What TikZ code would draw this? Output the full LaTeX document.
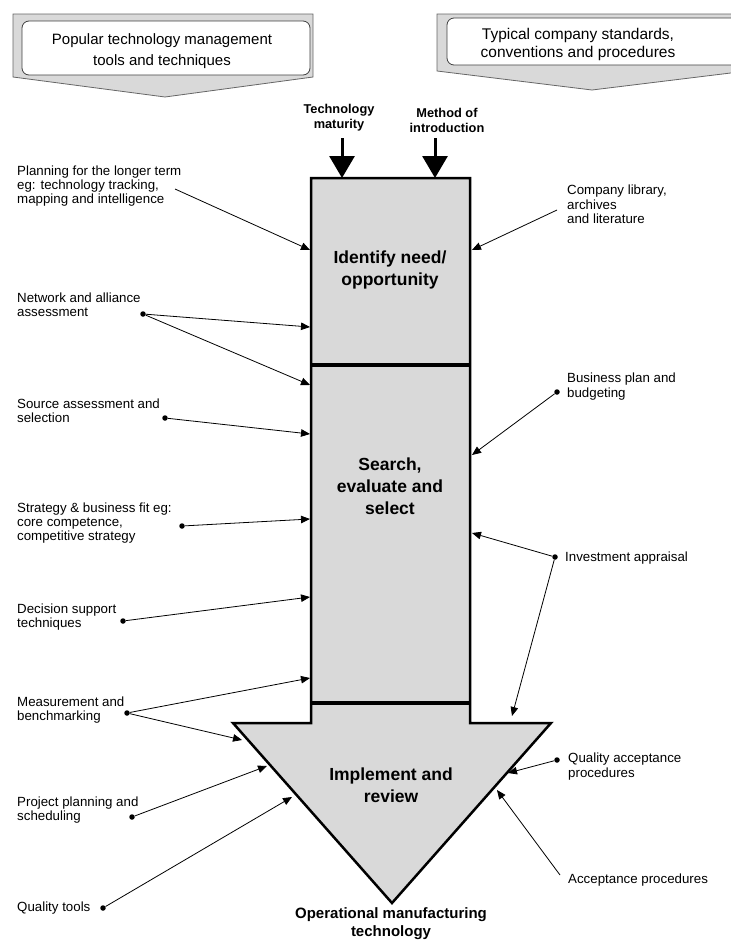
\documentclass[tikz,border=0pt]{standalone}
\usepackage{fontspec}
\setmainfont{Liberation Sans}
\usetikzlibrary{arrows.meta}

\begin{document}
\begin{tikzpicture}[x=1pt,y=-1pt,
  lbl/.style={anchor=west,align=left,inner sep=0pt,font=\fontsize{13.3}{14.3}\selectfont},
  dot/.style={circle,fill=black,inner sep=0pt,minimum size=5.5pt},
  feed/.style={line width=0.8pt,-{Triangle[length=9pt,width=7.5pt]}},
  stage/.style={align=center,font=\bfseries\fontsize{17.5}{22}\selectfont},
  input/.style={line width=3pt,-{Triangle[length=22pt,width=25pt]}},
  banner/.style={draw=black!60,fill=black!15,line width=0.8pt},
  heading/.style={draw=black!75,fill=white,rounded corners=7pt,line width=0.8pt}]

\useasboundingbox (0,0) rectangle (731,943);
\clip (0,0) rectangle (731,943);

\draw[banner] (13,14) -- (313,14) -- (313,77) -- (165,97) -- (13,77) -- cycle;
\draw[heading] (22,21) rectangle (310,75);
\node[align=center,font=\fontsize{15}{21}\selectfont] (tools) at (162,51) {Popular technology management\\tools and techniques};

\draw[banner] (437,14) -- (747,14) -- (747,71) -- (592,90) -- (437,71) -- cycle;
\draw[heading] (447,18) rectangle (745,65);
\node[align=center,font=\fontsize{15.5}{18}\selectfont] (stds) at (578,44) {Typical company standards,\\conventions and procedures};

\draw[fill=black!15,line width=2.5pt] (311,178) -- (470,178) -- (470,723) -- (551,723) -- (392,903) -- (233,723) -- (311,723) -- cycle;
\draw[line width=3.5pt] (311,365) -- (470,365) (311,703) -- (470,703);

\node[stage] (need) at (390,270) {Identify need/\\opportunity};
\node[stage] (search) at (390,486) {Search,\\evaluate and\\select};
\node[stage] (impl) at (391,785) {Implement and\\review};
\node[align=center,font=\bfseries\fontsize{15}{18}\selectfont] (omt) at (391,924) {Operational manufacturing\\technology};

\node[align=center,font=\bfseries\fontsize{12.8}{15}\selectfont] (tm) at (339,118) {Technology\\maturity};
\node[align=center,font=\bfseries\fontsize{12.8}{15}\selectfont] (moi) at (447,120) {Method of\\introduction};
\coordinate (tmTop) at (342,138);
\coordinate (tmTip) at (342,178);
\coordinate (moiTop) at (435,138);
\coordinate (moiTip) at (435,178);
\draw[input] (tmTop) -- (tmTip);
\draw[input] (moiTop) -- (moiTip);

\node[lbl] (plan) at (17,186) {Planning for the longer term\\eg: technology tracking,\\mapping and intelligence};
\node[lbl] (net) at (17,305) {Network and alliance\\assessment};
\node[lbl] (src) at (17,411) {Source assessment and\\selection};
\node[lbl] (strat) at (17,523) {Strategy \& business fit eg:\\core competence,\\competitive strategy};
\node[lbl] (dec) at (17,617) {Decision support\\techniques};
\node[lbl] (meas) at (17,710) {Measurement and\\benchmarking};
\node[lbl] (proj) at (17,810) {Project planning and\\scheduling};
\node[lbl] (qtools) at (17,908) {Quality tools};

\node[lbl] (lib) at (567,204.5) {Company library,\\archives\\and literature};
\node[lbl] (bus) at (567,386.5) {Business plan and\\budgeting};
\node[lbl] (inv) at (565,558) {Investment appraisal};
\node[lbl] (qap) at (568,766.5) {Quality acceptance\\procedures};
\node[lbl] (acc) at (568,880) {Acceptance procedures};

\coordinate (planStart) at (175,189);
\coordinate (libStart) at (557,210);
\coordinate (accStart) at (560,875);
\node[dot] (netDot) at (143,314) {};
\node[dot] (srcDot) at (165,418) {};
\node[dot] (stratDot) at (182,526) {};
\node[dot] (decDot) at (123,621) {};
\node[dot] (measDot) at (127,713) {};
\node[dot] (projDot) at (132,817) {};
\node[dot] (qtDot) at (103,908) {};
\node[dot] (busDot) at (557,392) {};
\node[dot] (invDot) at (555,557) {};
\node[dot] (qapDot) at (557,760) {};

\coordinate (planTip) at (310,250);
\coordinate (netTip1) at (310,327);
\coordinate (netTip2) at (310,385);
\coordinate (srcTip) at (310,434);
\coordinate (stratTip) at (310,519);
\coordinate (decTip) at (310,597);
\coordinate (measTip1) at (310,678);
\coordinate (measTip2) at (242,740);
\coordinate (projTip) at (267,766);
\coordinate (qtTip) at (292,797);
\coordinate (libTip) at (472,250);
\coordinate (busTip) at (472,455);
\coordinate (invTip1) at (472,533);
\coordinate (invTip2) at (512,716);
\coordinate (qapTip) at (508,773);
\coordinate (accTip) at (497,790);

\draw[feed] (planStart) -- (planTip);
\draw[feed] (netDot) -- (netTip1);
\draw[feed] (netDot) -- (netTip2);
\draw[feed] (srcDot) -- (srcTip);
\draw[feed] (stratDot) -- (stratTip);
\draw[feed] (decDot) -- (decTip);
\draw[feed] (measDot) -- (measTip1);
\draw[feed] (measDot) -- (measTip2);
\draw[feed] (projDot) -- (projTip);
\draw[feed] (qtDot) -- (qtTip);
\draw[feed] (libStart) -- (libTip);
\draw[feed] (busDot) -- (busTip);
\draw[feed] (invDot) -- (invTip1);
\draw[feed] (invDot) -- (invTip2);
\draw[feed] (qapDot) -- (qapTip);
\draw[feed] (accStart) -- (accTip);
\end{tikzpicture}
\end{document}
